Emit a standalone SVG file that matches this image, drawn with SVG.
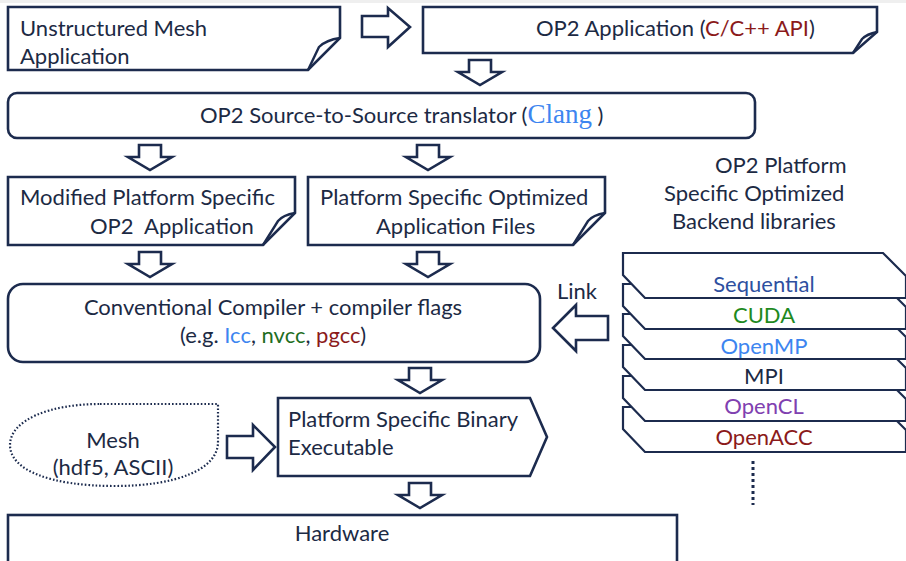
<svg xmlns="http://www.w3.org/2000/svg" width="906" height="561" viewBox="0 0 906 561">
<defs>
<style>
.box{fill:#fff;stroke:#1c2b4e;stroke-width:2.6;stroke-linejoin:miter}
.curl{fill:none;stroke:#1c2b4e;stroke-width:2.4}
.arr{fill:#fff;stroke:#1c2b4e;stroke-width:2.6;stroke-linejoin:miter}
.t{font-family:Lato,"Open Sans","Liberation Sans",sans-serif;font-size:22px;fill:#1c2a44}
.c{text-anchor:middle}
.layer{fill:#fff;stroke:#1c2b4e;stroke-width:2.2;stroke-linejoin:miter}
.seq{fill:#2e4fa0}
.cuda{fill:#1f8a1f}
.omp{fill:#3d85f0}
.ocl{fill:#8040b0}
.acc{fill:#8b1a1a}
</style>
<path id="down" class="arr" d="M-11,0 H11 V12 H22 L0,25 L-22,12 H-11 Z"/>
</defs>
<rect width="906" height="561" fill="#fff"/>
<rect width="906" height="3" fill="#efefef"/>

<g id="connectors">
<path class="arr" d="M362,16 H388 V8 L410,27 L388,47 V37 H362 Z"/>
<use href="#down" x="480" y="60"/>
<use href="#down" x="150" y="145"/>
<use href="#down" x="428" y="145"/>
<use href="#down" x="150" y="252"/>
<use href="#down" x="428" y="252"/>
<path class="arr" d="M608,316 H576 V305 L553,328 L576,351 V340 H608 Z"/>
<use href="#down" x="420" y="368"/>
<path class="arr" d="M227,436 H253 V425 L275,447 L253,470 V458 H227 Z"/>
<use href="#down" x="420" y="483"/>
<text class="t" x="557" y="299" font-size="20">Link</text>
</g>

<g id="unstructured-mesh-app">
<path class="box" d="M8,7 H340 V38 L308,70 H8 Z"/>
<path class="curl" d="M340,38 Q326,40 319,47 L308,70"/>
<text class="t" x="20" y="36">Unstructured Mesh</text>
<text class="t" x="20" y="64">Application</text>
</g>

<g id="op2-application">
<path class="box" d="M423,7 H877 V32 L853,53 H423 Z"/>
<path class="curl" d="M877,32 Q867,34 862,39 L853,53"/>
<text class="t" x="536" y="36">OP2 Application (<tspan class="acc">C/C++ API</tspan>)</text>
</g>

<g id="translator">
<rect class="box" x="8" y="93" width="747" height="45" rx="9"/>
<text class="t" x="200" y="123">OP2 Source-to-Source translator (<tspan class="omp" font-family="'Liberation Serif','DejaVu Serif',serif" font-size="27">Clang</tspan> )</text>
</g>

<g id="modified-app">
<path class="box" d="M8,177 H295 V213 L263,245 H8 Z"/>
<path class="curl" d="M295,213 Q283,215 278,221 L263,245"/>
<text class="t" x="20" y="205">Modified Platform Specific</text>
<text class="t" x="90" y="234">OP2&#160; Application</text>
</g>

<g id="optimized-files">
<path class="box" d="M308,177 H605 V213 L573,245 H308 Z"/>
<path class="curl" d="M605,213 Q593,215 588,221 L573,245"/>
<text class="t" x="320" y="205">Platform Specific Optimized</text>
<text class="t" x="376" y="234">Application Files</text>
</g>

<g id="backend-title">
<text class="t" x="715" y="173">OP2 Platform</text>
<text class="t" x="664" y="201">Specific Optimized</text>
<text class="t" x="672" y="229">Backend libraries</text>
</g>

<g id="compiler">
<rect class="box" x="8" y="284" width="532" height="78" rx="15"/>
<text class="t c" x="273" y="315">Conventional Compiler + compiler flags</text>
<text class="t c" x="273" y="343">(e.g. <tspan class="omp">Icc</tspan>, <tspan style="fill:#1f6e1f">nvcc</tspan>, <tspan class="acc">pgcc</tspan>)</text>
</g>

<g id="backend-libraries">
<path class="layer" d="M623,407 H883 L906,430 V452 H645 L623,429 Z"/>
<path class="layer" d="M623,376 H883 L906,399 V421 H645 L623,398 Z"/>
<path class="layer" d="M623,345 H883 L906,368 V390 H645 L623,367 Z"/>
<path class="layer" d="M623,314 H883 L906,337 V359 H645 L623,336 Z"/>
<path class="layer" d="M623,284 H883 L906,307 V329 H645 L623,306 Z"/>
<path class="layer" d="M623,253 H883 L906,276 V298 H645 L623,275 Z"/>
<text class="t c seq" x="764" y="292">Sequential</text>
<text class="t c cuda" x="764" y="323">CUDA</text>
<text class="t c omp" x="764" y="354">OpenMP</text>
<text class="t c" x="764" y="384">MPI</text>
<text class="t c ocl" x="764" y="414">OpenCL</text>
<text class="t c acc" x="764" y="445">OpenACC</text>
<line x1="753" y1="461" x2="753" y2="505" stroke="#1c2b4e" stroke-width="3" stroke-dasharray="3,3"/>
</g>

<g id="mesh">
<path d="M100,404 H218 V442 C218,470 175,486 115,486 C50,486 10,470 10,445 C10,420 50,404 100,404 Z" fill="#fff" stroke="#1c2b4e" stroke-width="2.2" stroke-dasharray="1.6,2"/>
<text class="t c" x="113" y="448">Mesh</text>
<text class="t c" x="113" y="475">(hdf5, ASCII)</text>
</g>

<g id="binary">
<path class="box" d="M278,398 H530 L547,437 L530,476 H278 Z"/>
<text class="t" x="288" y="427">Platform Specific Binary</text>
<text class="t" x="288" y="455">Executable</text>
</g>

<g id="hardware">
<rect class="box" x="8" y="515" width="669" height="60"/>
<text class="t c" x="342" y="541">Hardware</text>
</g>
</svg>
